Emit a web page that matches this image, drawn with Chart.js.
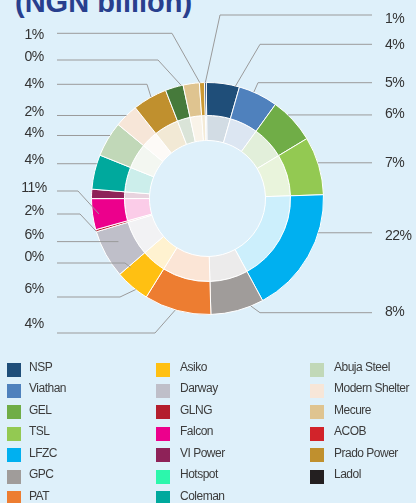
<!DOCTYPE html>
<html>
<head>
<meta charset="utf-8">
<script src="https://cdn.jsdelivr.net/npm/chart.js@4.4.1/dist/chart.umd.min.js"></script>
<style>
  html, body { margin: 0; padding: 0; }
  body { width: 416px; height: 503px; overflow: hidden; background: #DEF0FA; position: relative;
         font-family: "Liberation Sans", Arial, sans-serif; }
  #c { position: absolute; left: 0; top: 0; }
  #title { position: absolute; left: 15px; top: -12.5px; font-size: 29px; line-height: 29px;
           font-weight: bold; color: #283F8E; white-space: nowrap; }
  .lg { position: absolute; font-size: 12px; line-height: 14px; color: #3C3C3C; letter-spacing: -0.5px; white-space: nowrap; }
  .sw { position: absolute; width: 14px; height: 14px; }
</style>
</head>
<body>
<div id="title">(NGN billion)</div>
<canvas id="c" width="416" height="503"></canvas>
<div id="legend"></div>
<script>
// ---------- data ----------
// slices, clockwise from 12 o'clock
const categories = ['NSP','Viathan','GEL','TSL','LFZC','GPC','PAT','Asiko','Darway','GLNG',
  'Falcon','VI Power','Hotspot','Coleman','Abuja Steel','Modern Shelter','Prado Power','Other',
  'Mecure','ACOB','Ladol'];
const shares = [4.6, 5.5, 6.4, 8.1, 17.6, 7.4, 9.3, 4.8, 6.7, 0.3,
  4.3, 1.3, 0, 4.8, 4.9, 3.3, 4.8, 2.5, 2.25, 0.7, 0.25];

// percentage call-outs as printed on the chart, and the slice each points to
const pctLabelText = ['1%','4%','5%','6%','7%','22%','8%',
  '1%','0%','4%','2%','4%','4%','11%','2%','6%','0%','6%','4%'];
const pctLabelFor = ['Ladol','NSP','Viathan','GEL','TSL','LFZC','GPC',
  'ACOB','Other','Prado Power','Modern Shelter','Abuja Steel','Coleman','Falcon','GLNG','Darway','Asiko','Asiko','PAT'];

// legend entries
const legendNames = ['NSP','Viathan','GEL','TSL','LFZC','GPC','PAT',
  'Asiko','Darway','GLNG','Falcon','VI Power','Hotspot','Coleman',
  'Abuja Steel','Modern Shelter','Mecure','ACOB','Prado Power','Ladol'];

// ---------- styles ----------
const sliceColors = ['#1F4E79','#4F81BD','#70AD47','#93C952','#00B0F0','#A09C9A','#ED7D31','#FFC012','#BFBFC9','#B41E2D',
  '#EC008C','#8E2258','#2CF7AC','#00A99D','#C1D8B8','#F7E6D8','#C0902E','#467A3B','#DFC490','#CC9933','#1E3F66'];
const legendColors = ['#1F4E79','#4F81BD','#70AD47','#93C952','#00B0F0','#A09C9A','#ED7D31',
  '#FFC012','#BFBFC9','#B41E2D','#EC008C','#8E2258','#2CF7AC','#00A99D',
  '#C1D8B8','#F7E6D8','#DFC490','#D2232A','#C0902E','#231F20'];

function tint(hex, f) {
  const n = parseInt(hex.slice(1), 16);
  const r = (n >> 16) & 255, g = (n >> 8) & 255, b = n & 255;
  const m = c => Math.round(c * f + 255 * (1 - f));
  return 'rgb(' + m(r) + ',' + m(g) + ',' + m(b) + ')';
}
const innerColors = sliceColors.map(c => tint(c, 0.2));

// call-out layout: side, text centre y, horizontal line y, elbow x (null = straight), position along slice, radius factor
const calloutLayout = [
  {side:'R', ty:17.5, ly:15,   ex:220, f:0.5,  rf:1},
  {side:'R', ty:44,   ly:44.3, ex:260, f:0.87, rf:0.99},
  {side:'R', ty:81.7, ly:82.7, ex:258, f:0.38, rf:1},
  {side:'R', ty:113,  ly:null, ex:null, f:0.35, rf:1},
  {side:'R', ty:162,  ly:null, ex:null, f:0.45, rf:1},
  {side:'R', ty:235,  ly:null, ex:null, f:0.30, rf:1},
  {side:'R', ty:310.5,ly:312.7,ex:260, f:0.24, rf:1},
  {side:'L', ty:34,   ly:33.3, ex:172, f:0.1,  rf:1},
  {side:'L', ty:56,   ly:60,   ex:158, f:0.9,  rf:1},
  {side:'L', ty:83,   ly:84.3, ex:147, f:0.54, rf:1},
  {side:'L', ty:111,  ly:null, ex:null, f:0.51, rf:1},
  {side:'L', ty:132,  ly:null, ex:null, f:0.62, rf:1},
  {side:'L', ty:158.5,ly:null, ex:null, f:0.74, rf:1},
  {side:'L', ty:187,  ly:191,  ex:78,  f:0.48, rf:0.945},
  {side:'L', ty:209.7,ly:214,  ex:80,  f:0.2,  rf:1},
  {side:'L', ty:234,  ly:null, ex:null, f:0.62, rf:0.853},
  {side:'L', ty:255.5,ly:263,  ex:125, f:0.94, rf:0.89},
  {side:'L', ty:288,  ly:297,  ex:120, f:0.37, rf:1},
  {side:'L', ty:322.5,ly:333,  ex:155, f:0.53, rf:1}
];

const calloutPlugin = {
  id: 'callouts',
  afterDatasetsDraw(chart) {
    const ctx = chart.ctx;
    const arcs = chart.getDatasetMeta(0).data;
    ctx.save();
    ctx.strokeStyle = '#9A9A9A';
    ctx.lineWidth = 1;
    ctx.font = '14px "Liberation Sans", Arial, sans-serif';
    ctx.fillStyle = '#333333';
    if ('letterSpacing' in ctx) ctx.letterSpacing = '-0.5px';
    ctx.textBaseline = 'alphabetic';
    pctLabelText.forEach((txt, i) => {
      const L = calloutLayout[i];
      const arc = arcs[categories.indexOf(pctLabelFor[i])];
      const a = arc.startAngle + L.f * (arc.endAngle - arc.startAngle);
      const r = arc.outerRadius * L.rf;
      const ax = arc.x + Math.cos(a) * r, ay = arc.y + Math.sin(a) * r;
      const endX = L.side === 'R' ? 372 : 57;
      ctx.beginPath();
      ctx.moveTo(ax, ay);
      if (L.ex !== null) {
        ctx.lineTo(L.ex, L.ly);
        ctx.lineTo(endX, L.ly);
      } else {
        ctx.lineTo(endX, ay);
      }
      ctx.stroke();
      if (L.side === 'R') { ctx.textAlign = 'left'; ctx.fillText(txt, 385, L.ty + 5); }
      else { ctx.textAlign = 'center'; ctx.fillText(txt, 34, L.ty + 5); }
    });
    ctx.restore();
  }
};

new Chart(document.getElementById('c'), {
  type: 'doughnut',
  data: {
    labels: categories,
    datasets: [
      { data: shares, backgroundColor: sliceColors, borderColor: '#FFFFFF', borderWidth: 1, weight: 33 },
      { data: shares, backgroundColor: innerColors, borderColor: '#FFFFFF', borderWidth: 1, weight: 25 }
    ]
  },
  options: {
    responsive: false,
    animation: false,
    rotation: -0.6,
    cutout: '50%',
    layout: { padding: { left: 91, top: 82, right: 92, bottom: 188 } },
    plugins: { legend: { display: false }, tooltip: { enabled: false }, title: { display: false } }
  },
  plugins: [calloutPlugin]
});

// ---------- HTML legend (3 columns, filled column by column) ----------
const legendEl = document.getElementById('legend');
const colSwatchX = [7, 156, 310], colTextX = [29, 180, 334];
legendNames.forEach((name, i) => {
  const col = Math.floor(i / 7), row = i % 7;
  const cy = 367 + row * 21.45;
  const sw = document.createElement('div');
  sw.className = 'sw';
  sw.style.left = colSwatchX[col] + 'px';
  sw.style.top = (cy - 7 + 2.5) + 'px';
  sw.style.background = legendColors[i];
  legendEl.appendChild(sw);
  const t = document.createElement('div');
  t.className = 'lg';
  t.style.left = colTextX[col] + 'px';
  t.style.top = (cy - 7) + 'px';
  t.textContent = name;
  legendEl.appendChild(t);
});
</script>
</body>
</html>
